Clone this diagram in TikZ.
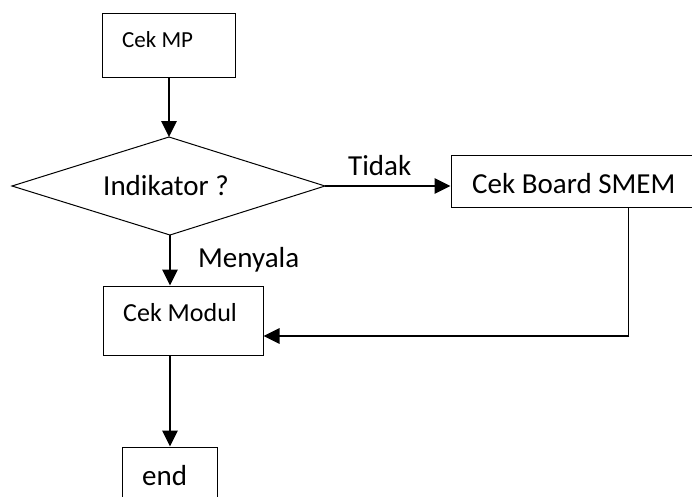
\documentclass[tikz,border=0pt]{standalone}
\usepackage{fontspec}
\setmainfont{Carlito}
\usetikzlibrary{arrows.meta}
\begin{document}
\begin{tikzpicture}[x=1pt,y=-1pt,
  box/.style={draw,line width=1pt,rectangle,inner sep=0pt},
  txt/.style={inner sep=0pt,anchor=base west,font=\fontsize{29}{34}\selectfont},
  flow/.style={line width=2.9pt,-{Triangle[length=16pt,width=15pt]}},
  thinline/.style={line width=1pt}]
\useasboundingbox (0,0) rectangle (692,496);
\clip (0,0) rectangle (692,496);
\fill[white] (0,0) rectangle (692,496);

% process boxes
\node[box,minimum width=133pt,minimum height=64pt] (mp) at (168.5,45) {};
\node[txt,font=\fontsize{23}{28}\selectfont] (mptxt) at (122,47) {Cek MP};

% decision diamond
\coordinate (dtop) at (169,137);
\coordinate (dright) at (325,186);
\coordinate (dbot) at (170,235);
\coordinate (dleft) at (12,186);
\draw[thinline,line join=miter] (dtop) -- (dright) -- (dbot) -- (dleft) -- cycle;
\node[inner sep=0pt,font=\fontsize{29}{34}\selectfont] (dia) at (166,186) {Indikator ?};

\node[box,minimum width=249pt,minimum height=52pt] (smem) at (575.5,181) {};
\node[txt] (smemtxt) at (472,193) {Cek Board SMEM};

\node[box,minimum width=160pt,minimum height=69pt] (modul) at (183,320.5) {};
\node[txt,font=\fontsize{26}{31}\selectfont] (modultxt) at (123,321) {Cek Modul};

\node[box,minimum width=95pt,minimum height=63pt] (fin) at (169.5,478.5) {};
\node[txt] (fintxt) at (142,485) {end};

% branch labels
\node[txt] (tidak) at (348,175) {Tidak};
\node[txt] (menyala) at (198,267) {Menyala};

% connectors
\coordinate (bend) at (628,336);
\draw[flow] (mp.south -| dtop) -- (dtop);
\draw[flow] (dright) -- (dright -| smem.west);
\draw[flow] (dbot) -- (dbot |- modul.north);
\draw[thinline] (smem.south -| bend) -- (bend);
\draw[flow] ([xshift=1.45pt]bend) -- (bend -| modul.east);
\draw[flow] (modul.south -| dbot) -- (dbot |- fin.north);
\end{tikzpicture}
\end{document}
